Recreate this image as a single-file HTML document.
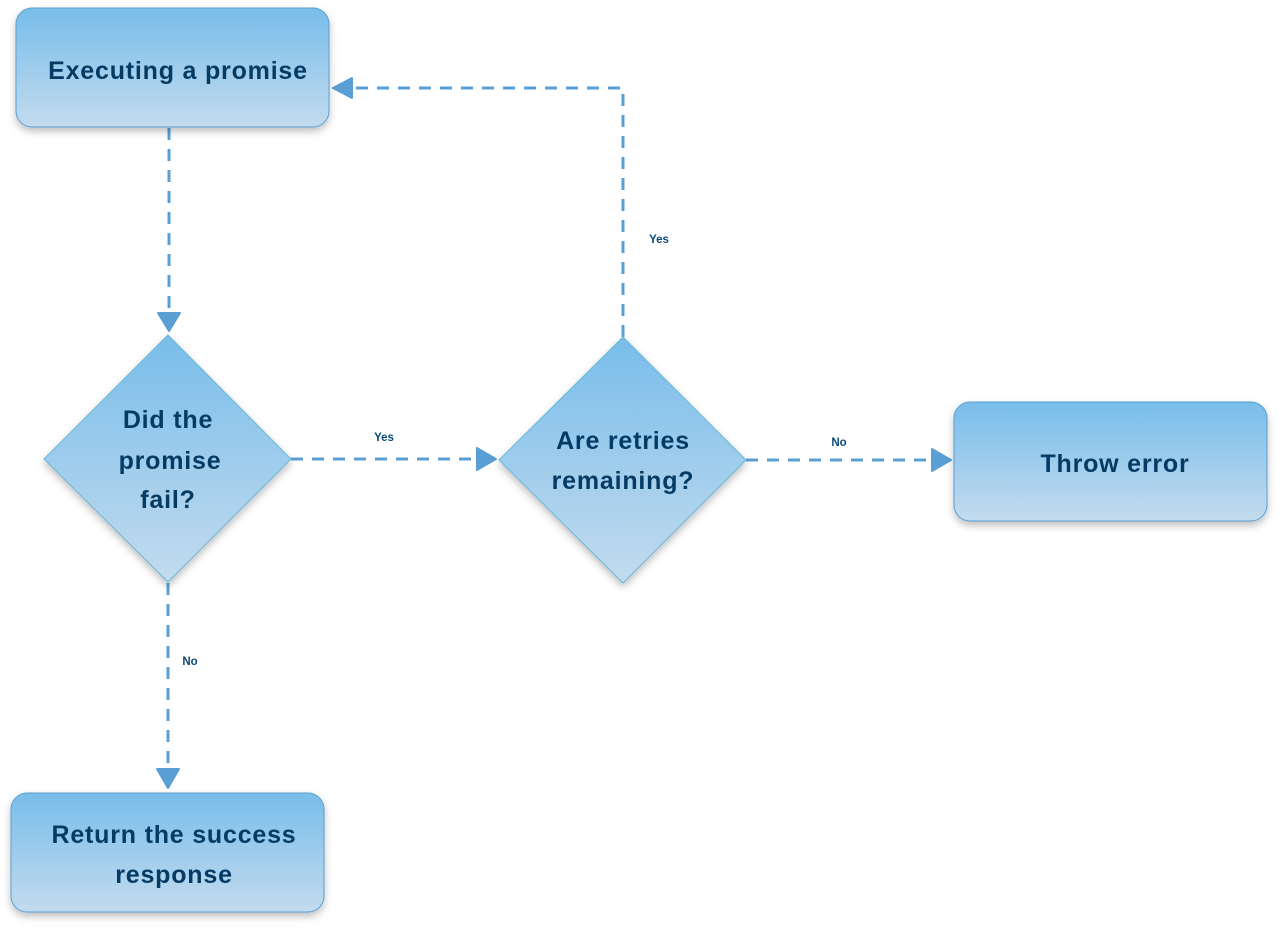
<!DOCTYPE html>
<html><head><meta charset="utf-8"><style>
html,body{margin:0;padding:0;background:#fff;width:1279px;height:928px;overflow:hidden}
</style></head><body>
<svg width="1279" height="928" viewBox="0 0 1279 928" xmlns="http://www.w3.org/2000/svg" font-family="Liberation Sans, sans-serif">
<defs>
<linearGradient id="g" x1="0" y1="0" x2="0" y2="1">
<stop offset="0" stop-color="#78bdea"/><stop offset="1" stop-color="#c3dbee"/>
</linearGradient>
<filter id="s" x="-20%" y="-20%" width="140%" height="140%"><feDropShadow dx="0" dy="4" stdDeviation="4" flood-color="#000" flood-opacity="0.25"/></filter>
</defs>
<g stroke="#5a9fd4" stroke-width="3" fill="none" stroke-dasharray="12 9">
<path d="M169 128 V314"/>
<path d="M291 459 H478"/>
<path d="M746 460 H933"/>
<path d="M623 337 V88 H352"/>
<path d="M168 583 V770"/>
</g>
<g fill="#5a9fd4" stroke="#5a9fd4" stroke-width="2" stroke-linejoin="round">
<path d="M158 313 L180 313 L169 331 Z"/>
<path d="M477 448 L477 470 L496 459 Z"/>
<path d="M932 449 L932 471 L951 460 Z"/>
<path d="M352 78 L352 98 L333 88 Z"/>
<path d="M157 769 L179 769 L168 788 Z"/>
</g>
<g fill="url(#g)" stroke="#5b9fd0" stroke-width="1" filter="url(#s)">
<rect x="16" y="8" width="313" height="119" rx="16"/>
<rect x="954" y="402" width="313" height="119" rx="16"/>
<rect x="11" y="793" width="313" height="119" rx="16"/>
<path d="M168 335 L291 459 L168 582 L44 459 Z" stroke="#6ab8d8"/>
<path d="M623 337 L746 460 L623 583 L499 460 Z" stroke="#6ab8d8"/>
</g>
<g fill="#043b64" font-weight="bold" font-size="25" letter-spacing="0.8" text-anchor="middle">
<text x="178" y="79">Executing a promise</text>
<text x="1115" y="472">Throw error</text>
<text x="174" y="843">Return the success</text>
<text x="174" y="883">response</text>
<text x="168" y="428">Did the</text>
<text x="170" y="469">promise</text>
<text x="168" y="508">fail?</text>
<text x="623" y="449">Are retries</text>
<text x="623" y="489">remaining?</text>
</g>
<g fill="#0a4a7a" font-weight="bold" font-size="11.5" text-anchor="middle">
<text x="384" y="441">Yes</text>
<text x="839" y="446">No</text>
<text x="659" y="243">Yes</text>
<text x="190" y="665">No</text>
</g>
</svg>
</body></html>
